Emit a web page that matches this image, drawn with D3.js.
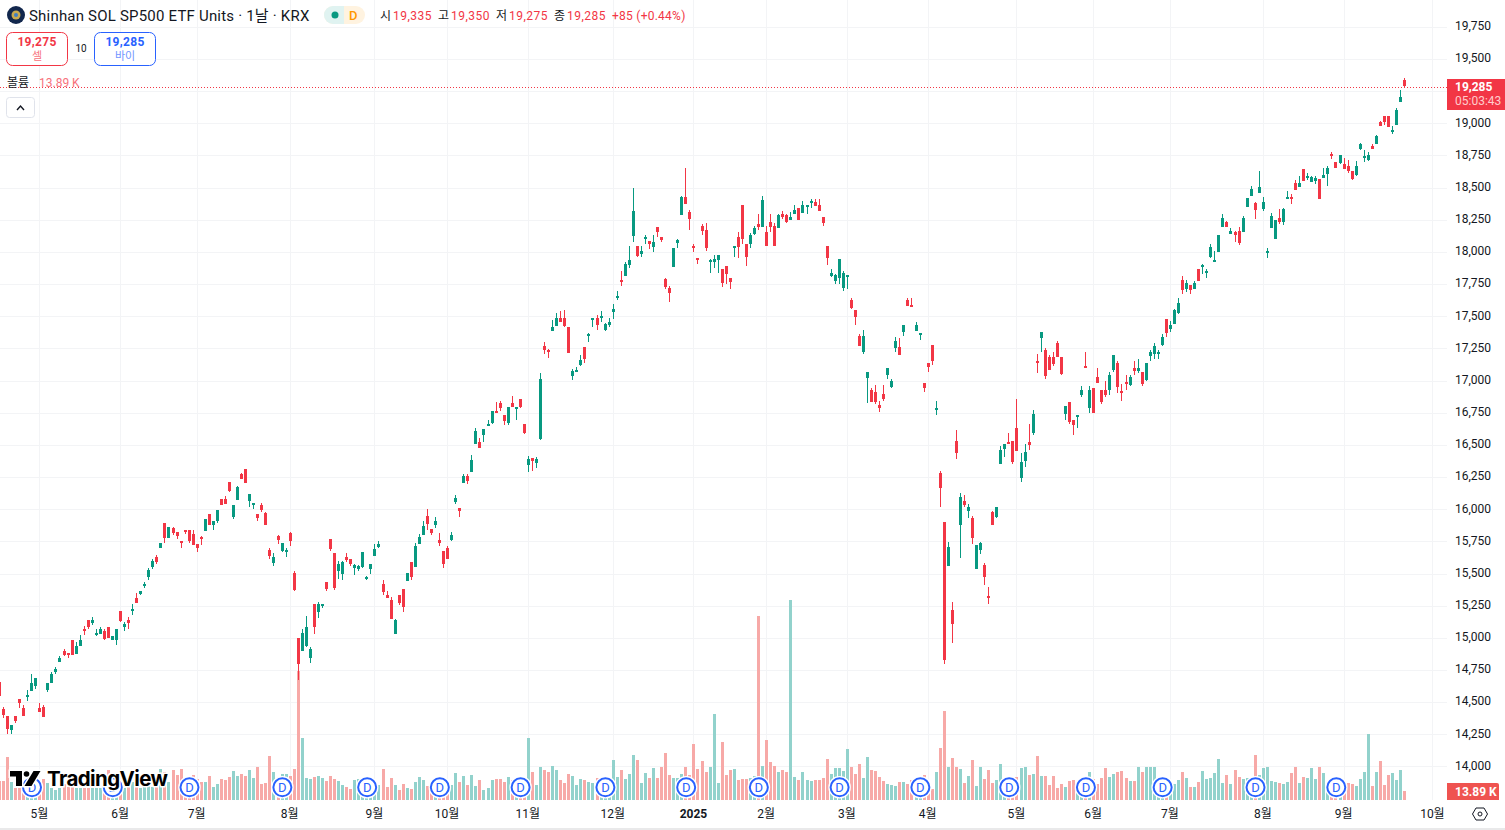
<!DOCTYPE html>
<html lang="ko">
<head>
<meta charset="UTF-8">
<title>Shinhan SOL SP500 ETF Units</title>
<style>
  html, body { margin: 0; padding: 0; width: 100%; height: 100%; overflow: hidden; background: #fff; }
  svg { display: block; }
  text { font-family: Roboto, "Noto Sans CJK KR", sans-serif; fill: #131722; }
  .axis path, .axis line { display: none; }
</style>
</head>
<body>
<svg id="chart" width="1505" height="830"></svg>
<script src="https://d3js.org/d3.v7.min.js"></script>
<script>
const opens = [
  14655,14450,14395,14285,14395,14525,14455,14550,14590,14630,14455,14465,14590,14650,14730,14815,14900,14880,14985,14880,
  14940,15070,15135,15110,15030,15030,15055,15085,14985,14980,15210,15085,15140,15220,15310,15345,15400,15475,15555,15625,
  15700,15895,15780,15855,15825,15755,15840,15840,15810,15730,15785,15835,15965,15880,15905,16080,16080,16215,15940,16075,
  16270,16315,16065,16030,15965,16035,15970,15685,15585,15795,15675,15675,15815,15505,14995,14900,14935,14840,15260,15205,
  15260,15435,15765,15660,15520,15495,15625,15610,15540,15535,15550,15470,15535,15635,15705,15420,15330,15295,15030,15330,
  15380,15440,15590,15550,15730,15800,15945,15845,15875,15760,15675,15695,15760,16055,16010,16200,16255,16290,16505,16520,
  16575,16645,16670,16765,16825,16730,16670,16825,16790,16855,16660,16340,16395,16360,16545,17265,17235,17390,17430,17490,
  17485,17415,17040,17080,17125,17260,17360,17470,17485,17500,17390,17430,17530,17640,17780,17820,17895,18120,18045,17980,
  18110,18085,18035,18190,18115,17790,17720,17880,18065,18285,18425,18310,18045,17955,18200,18170,17935,17925,17935,17865,
  17890,17795,18045,18115,18365,18065,18060,18135,18215,18190,18155,18230,18200,18185,18295,18285,18245,18295,18340,18300,
  18355,18390,18385,18365,18275,18045,17810,17770,17795,17725,17815,17625,17545,17350,17220,17015,16925,16910,16810,16895,
  17040,16950,17250,17260,17375,17630,17590,17390,17365,16980,17140,17275,16780,16280,15900,15555,15215,16530,15875,16060,
  15985,15935,15535,15680,15565,15325,15975,15935,16355,16465,16520,16530,16630,16240,16375,16520,16590,17155,17335,17240,
  17185,17180,17290,17185,16745,16830,16695,16715,16890,17110,16785,16945,17030,16925,16925,16930,17085,17135,16915,16990,
  16970,17100,17080,17065,17000,17195,17210,17215,17280,17480,17405,17445,17530,17785,17715,17745,17715,17870,17890,17850,
  17955,17930,18000,18195,18235,18140,18155,18165,18155,18350,18435,18380,18460,18335,18000,18185,18100,18265,18235,18420,
  18425,18535,18505,18645,18585,18550,18550,18565,18575,18605,18765,18700,18690,18685,18670,18630,18600,18800,18740,18715,
  18825,18840,19010,19055,19055,18945,18985,19165,19335
];
const highs = [
  14655,14460,14395,14325,14395,14525,14475,14595,14720,14690,14495,14480,14650,14735,14775,14860,14910,14885,14985,14970,
  15025,15095,15135,15165,15065,15085,15065,15085,15015,15065,15210,15125,15165,15265,15350,15365,15435,15545,15615,15645,
  15740,15895,15865,15865,15825,15755,15840,15840,15840,15730,15795,15925,15965,15910,15990,16080,16105,16215,16035,16180,
  16285,16315,16120,16050,15965,16050,15980,15700,15660,15800,15740,15700,15825,15520,14995,15065,15170,14925,15260,15275,
  15265,15435,15765,15660,15595,15595,15660,15610,15575,15565,15665,15480,15575,15730,15750,15450,15365,15315,15145,15330,
  15380,15505,15590,15735,15805,15905,16000,15845,15940,15815,15675,15715,15820,16110,16010,16270,16270,16420,16635,16550,
  16620,16690,16760,16830,16840,16730,16795,16880,16795,16855,16660,16410,16395,16405,17055,17300,17245,17470,17525,17540,
  17545,17415,17090,17105,17195,17260,17370,17485,17510,17540,17445,17490,17595,17695,17850,17920,18045,18495,18045,18045,
  18130,18085,18130,18190,18115,17795,17735,18030,18100,18435,18650,18325,18065,17955,18215,18225,17945,17975,17975,17865,
  17890,17795,18050,18155,18365,18065,18145,18205,18295,18435,18200,18295,18225,18295,18315,18295,18310,18365,18340,18395,
  18365,18415,18410,18410,18275,18045,17865,17825,17945,17850,17820,17645,17545,17360,17390,17065,16940,16965,16845,16965,
  17095,17010,17335,17330,17430,17640,17645,17455,17370,16980,17140,17275,16845,16295,15900,15745,15275,16615,16125,16110,
  16040,15945,15720,15745,15580,15395,15985,16015,16490,16505,16590,16530,16855,16435,16505,16660,16775,17205,17380,17255,
  17195,17225,17305,17185,16805,16830,16695,16730,16960,17220,16955,16945,17100,16925,16995,17065,17200,17150,16975,17045,
  17045,17150,17170,17065,17135,17235,17295,17240,17360,17480,17465,17560,17640,17815,17785,17745,17775,17870,17910,17865,
  18065,18005,18130,18295,18240,18185,18165,18195,18280,18420,18515,18390,18630,18425,18030,18305,18250,18335,18340,18475,
  18450,18560,18590,18645,18615,18590,18590,18565,18655,18670,18775,18700,18755,18730,18715,18630,18705,18845,18790,18775,
  18840,18910,19020,19055,19055,18980,19120,19260,19350
];
const lows = [
  14545,14375,14250,14255,14340,14455,14395,14510,14590,14605,14420,14385,14580,14650,14720,14815,14855,14845,14870,14875,
  14940,15025,15070,15100,15015,15030,14985,15000,14980,14945,15125,15055,15070,15180,15275,15330,15390,15450,15535,15575,
  15700,15740,15780,15800,15770,15695,15810,15740,15725,15670,15725,15835,15880,15840,15895,16035,16040,16135,15925,16075,
  16235,16205,16020,16005,15905,15980,15880,15615,15560,15730,15670,15625,15715,15365,14675,14895,14930,14805,15030,15155,
  15235,15365,15675,15370,15455,15450,15590,15555,15485,15520,15540,15450,15495,15635,15695,15330,15310,15145,15030,15255,
  15200,15440,15450,15550,15730,15800,15835,15800,15855,15715,15540,15610,15750,16040,15940,16200,16195,16290,16505,16475,
  16520,16645,16660,16745,16760,16655,16655,16795,16690,16785,16585,16290,16295,16320,16535,17205,17175,17390,17430,17455,
  17420,17215,17005,17065,17110,17135,17300,17415,17390,17455,17385,17415,17475,17625,17735,17820,17875,18075,17960,17960,
  18060,18020,18000,18115,18075,17710,17610,17880,18030,18285,18370,18170,18000,17905,18130,18005,17835,17875,17840,17725,
  17750,17710,17960,17950,18060,17890,18030,18135,18170,18190,18045,18155,18045,18185,18255,18225,18245,18295,18245,18300,
  18295,18340,18355,18315,18205,17895,17805,17750,17750,17700,17710,17555,17435,17265,17205,16825,16830,16815,16755,16845,
  17010,16940,17220,17195,17345,17585,17585,17390,17315,16910,17065,17120,16730,16015,14795,15555,14960,16390,15620,16015,
  15930,15730,15535,15650,15410,15260,15875,15935,16350,16405,16505,16350,16450,16210,16325,16460,16580,17055,17225,17015,
  17080,17115,17180,17045,16695,16660,16575,16635,16870,17095,16750,16750,16985,16820,16870,16885,17070,16905,16845,16925,
  16960,17045,17055,16955,16995,17155,17165,17170,17270,17340,17380,17445,17515,17675,17685,17670,17715,17775,17830,17800,
  17955,17930,18000,18195,18200,18140,18080,18055,18155,18350,18435,18255,18460,18320,17955,18185,18100,18215,18210,18410,
  18375,18480,18505,18550,18560,18545,18530,18410,18575,18515,18720,18655,18685,18645,18615,18560,18590,18790,18700,18705,
  18800,18840,18980,18985,18970,18915,18985,19165,19275
];
const closes = [
  14545,14405,14295,14325,14355,14495,14395,14555,14650,14690,14425,14385,14645,14720,14755,14845,14870,14875,14870,14940,
  14985,15065,15080,15135,15035,15065,14995,15000,15015,15065,15135,15110,15120,15225,15275,15365,15415,15530,15600,15585,
  15740,15780,15865,15815,15795,15750,15835,15755,15725,15700,15770,15925,15880,15910,15990,16035,16040,16145,16035,16175,
  16235,16205,16120,16045,15935,15995,15880,15640,15630,15765,15740,15680,15755,15375,14790,15040,15085,14910,15085,15265,
  15265,15380,15690,15385,15575,15590,15605,15575,15565,15555,15665,15475,15575,15690,15730,15355,15310,15145,15140,15270,
  15240,15505,15470,15715,15785,15870,15885,15815,15905,15735,15575,15610,15800,16085,15985,16255,16220,16380,16605,16475,
  16620,16660,16760,16760,16785,16685,16795,16795,16795,16795,16590,16390,16375,16390,17010,17235,17225,17420,17490,17460,
  17420,17215,17075,17085,17160,17165,17365,17485,17430,17505,17440,17455,17555,17655,17775,17910,17935,18315,17965,18005,
  18115,18065,18075,18155,18090,17725,17680,18030,18090,18425,18370,18255,18030,17950,18160,18030,17940,17945,17975,17755,
  17825,17765,18050,18035,18100,17965,18130,18185,18190,18400,18050,18190,18045,18285,18275,18230,18270,18325,18245,18365,
  18365,18395,18355,18315,18230,17950,17835,17820,17945,17840,17820,17560,17490,17275,17345,17065,16830,16830,16790,16855,
  17095,16995,17305,17195,17430,17585,17585,17435,17370,16940,17110,17150,16785,16165,14825,15705,15105,16435,16095,16030,
  16015,15780,15720,15735,15470,15310,15875,16015,16460,16505,16515,16365,16450,16365,16445,16495,16740,17150,17380,17040,
  17085,17125,17180,17055,16805,16675,16660,16730,16930,17105,16925,16750,16985,16835,16885,17045,17200,16945,16900,16985,
  17030,17080,17100,16970,17135,17225,17270,17220,17340,17375,17435,17550,17605,17705,17760,17705,17760,17775,17895,17855,
  18035,17940,18130,18265,18200,18165,18130,18070,18265,18420,18490,18325,18505,18390,18005,18280,18250,18235,18335,18425,
  18420,18480,18535,18550,18590,18585,18575,18410,18600,18655,18760,18655,18755,18645,18630,18565,18670,18840,18745,18755,
  18800,18900,18980,19010,18970,18950,19105,19205,19285
];
// volume in thousands of units
const volumes = [
  30,29,66,28,18.5,18.5,18.5,26,33,20,28,32,26,18,15,18,25,20,23,19,
  19,19,19,19,18,18,20.5,46,39,19,18,18,33,28,28,18,20,28,20,33,
  48,43,28,46,39,48,33,33,39,33,28,28,37,20,25,32,31,35,45,37,
  40,37,46,34,51,25,26,68,43,35,40,40,37,48,200,96,34,32,35,37,
  34,29,37,32,29,23,20,17,31,32,31,23,23,23,23,48,20,34,23,15,
  25,18.5,17,28,35,31,22,22,23,25,22,22,23,42,28,37,23,39,22,31,
  15,18.5,31,32,32,28,35,31,31,31,33,96,43,23,51,46,43,52,46,31,
  26,40,37,23,32,31,28,26,34,32,31,32,62,35,46,32,40,69,62,26,
  42,34,49,34,51,73,39,34,34,40,51,39,86,48,60,43,51,133,26,89,
  39,46,48,31,32,32,34,37,284,52,93,59,52,43,46,43,309,35,31,43,
  31,29,31,31,34,63,40,49,49,45,79,51,40,56,34,66,46,45,35,29,
  25,23,22,28,28,25,31,31,26,39,23,17,43,80,137,51,65,51,48,26,
  37,62,22,51,32,46,26,31,56,28,26,31,36,49,51,39,40,68,37,37,
  23,37,18.5,25,20,29,31,26,28,31,43,32,25,34,49,35,40,43,45,34,
  29,29,51,43,51,51,51,33,31,26,28,25,31,43,34,20,20,28,45,32,
  34,42,63,26,39,25,46,35,32,34,34,69,39,49,51,29,28,26,25,28,
  42,51,26,35,34,49,32,51,42,26,20,20,20,20,26,25,22,32,43,102,
  22,43,60,23,39,42,31,46,13.89
];
const priceTicks = d3.range(14000, 19751, 250);
const monthBars = [10,30,49,72,93,111,131,152,172,190,210,230,252,271,290,313,333,355];
const monthLabels = ["5월","6월","7월","8월","9월","10월","11월","12월","2025","2월","3월","4월","5월","6월","7월","8월","9월","10월"];
const dividendBars = [8,28,47,70,91,109,129,150,170,188,208,228,250,269,288,311,331];

const UP = "#089981", DOWN = "#f23645";
const UP_VOL = "#92d2cc", DOWN_VOL = "#f7a9a7";
const PANE_W = 1447, PANE_H = 800;

const svg = d3.select("#chart");
const x = d3.scaleLinear().domain([0, 355]).range([-0.6, 1432.9]);
const y = d3.scaleLinear().domain([14000, 19000]).range([766.46, 123.3]);
const vol = d3.scaleLinear().domain([0, 309]).range([PANE_H, 600]);
const snapX = i => Math.floor(x(i)) + 0.5;
const snapY = p => Math.round(y(p)) + 0.5;
const isDown = i => closes[i] < opens[i];
const bars = d3.range(opens.length);

// grid
const grid = svg.append("g").attr("stroke", "#f3f4f6").attr("shape-rendering", "crispEdges");
grid.selectAll(".h").data(priceTicks).join("line")
  .attr("x1", 0).attr("x2", PANE_W).attr("y1", snapY).attr("y2", snapY);
grid.selectAll(".v").data(monthBars).join("line")
  .attr("x1", snapX).attr("x2", snapX).attr("y1", 0).attr("y2", PANE_H);

// volume
svg.append("g").attr("shape-rendering", "crispEdges").selectAll("rect").data(bars).join("rect")
  .attr("x", i => snapX(i) - 1.5).attr("width", 3)
  .attr("y", i => vol(volumes[i])).attr("height", i => PANE_H - vol(volumes[i]))
  .attr("fill", i => isDown(i) ? DOWN_VOL : UP_VOL);

// candles
const candles = svg.append("g").attr("shape-rendering", "crispEdges");
candles.selectAll(".wick").data(bars).join("line")
  .attr("x1", snapX).attr("x2", snapX)
  .attr("y1", i => y(highs[i])).attr("y2", i => y(lows[i]))
  .attr("stroke", i => isDown(i) ? DOWN : UP);
candles.selectAll(".body").data(bars).join("rect")
  .attr("x", i => snapX(i) - 1.5).attr("width", 3)
  .attr("y", i => Math.round(y(Math.max(opens[i], closes[i]))))
  .attr("height", i => Math.max(2, Math.round(Math.abs(y(opens[i]) - y(closes[i])))))
  .attr("fill", i => isDown(i) ? DOWN : UP);

// last price line
svg.append("line").attr("x1", 0).attr("x2", PANE_W)
  .attr("y1", snapY(closes[348])).attr("y2", snapY(closes[348]))
  .attr("stroke", DOWN).attr("stroke-dasharray", "1 2");

// dividend markers
const div = svg.append("g").selectAll("g").data(dividendBars).join("g")
  .attr("transform", i => `translate(${x(i) + 0.3},787.3)`);
div.append("circle").attr("r", 9.3).attr("fill", "#fff").attr("stroke", "#fff").attr("stroke-width", 4);
div.append("circle").attr("r", 9).attr("fill", "#fff").attr("stroke", "#2962ff").attr("stroke-width", 2);
div.append("text").text("D").attr("text-anchor", "middle").attr("dy", "0.36em")
  .attr("font-size", 13).style("fill", "#2962ff");

// watermark logo
const logo = svg.append("g");
logo.append("path")
  .attr("d", "M10 771H22V786H16V776.5H10Z M24.5 786L33.5 771H40.5L31.5 786Z")
  .attr("fill", "#000").attr("stroke", "#fff").attr("stroke-width", 3).attr("paint-order", "stroke");
logo.append("circle").attr("cx", 26.5).attr("cy", 774).attr("r", 2.8).attr("fill", "#000");
logo.append("text").text("TradingView").attr("x", 47).attr("y", 786)
  .attr("font-size", 20.5).attr("font-weight", 700).attr("letter-spacing", -0.6)
  .style("font-family", "Inter").style("fill", "#000")
  .attr("stroke", "#fff").attr("stroke-width", 3).attr("paint-order", "stroke");

// axes
const priceAxis = d3.axisRight(y).tickValues(priceTicks.filter(p => p !== 19250))
  .tickFormat(d3.format(",")).tickSize(0).tickPadding(0);
svg.append("g").attr("class", "axis").attr("transform", "translate(1455,-1)").call(priceAxis)
  .selectAll("text").attr("font-size", 12);
const timeAxis = d3.axisBottom(x).tickValues(monthBars).tickFormat((d, i) => monthLabels[i]).tickSize(0).tickPadding(0);
svg.append("g").attr("class", "axis").attr("transform", "translate(-1,809)").call(timeAxis)
  .selectAll("text").attr("font-size", 12)
  .attr("font-weight", (d, i) => monthLabels[i] === "2025" ? 700 : 400);

// price labels on the scale
svg.append("rect").attr("x", PANE_W).attr("y", 79).attr("width", 58).attr("height", 31).attr("fill", DOWN);
svg.append("text").text("19,285").attr("x", 1455).attr("y", 91).attr("font-size", 12).attr("font-weight", 700).style("fill", "#fff");
svg.append("text").text("05:03:43").attr("x", 1455).attr("y", 105).attr("font-size", 12).style("fill", "#fcc");
svg.append("path").attr("d", "M1447 783H1497a2 2 0 0 1 2 2V800H1447Z").attr("fill", "#ef5350");
svg.append("text").text("13.89 K").attr("x", 1455).attr("y", 795.5).attr("font-size", 12).attr("font-weight", 700).style("fill", "#fff");
svg.append("path").attr("d", "M1472.5 814L1476 808H1484L1487.5 814L1484 820H1476Z").attr("fill", "none").attr("stroke", "#131722");
svg.append("circle").attr("cx", 1480).attr("cy", 814).attr("r", 2).attr("fill", "none").attr("stroke", "#131722");
svg.append("rect").attr("x", 0).attr("y", 828).attr("width", 1505).attr("height", 2).attr("fill", "#e9e9ea");

// header
svg.append("circle").attr("cx", 16).attr("cy", 15).attr("r", 9).attr("fill", "#12274d");
svg.append("circle").attr("cx", 16).attr("cy", 15).attr("r", 4.5).attr("fill", "#c9a94f");
svg.append("circle").attr("cx", 16).attr("cy", 15).attr("r", 2).attr("fill", "#3f7fc4");
svg.append("text").text("Shinhan SOL SP500 ETF Units · 1날 · KRX").attr("x", 29).attr("y", 21)
  .attr("font-size", 15).attr("letter-spacing", 0.2);
svg.append("rect").attr("x", 324).attr("y", 6).attr("width", 41).attr("height", 18).attr("rx", 9).attr("fill", "#fff3e0");
svg.append("path").attr("d", "M344 6H333a9 9 0 0 0 0 18H344Z").attr("fill", "#e0f3f1");
svg.append("circle").attr("cx", 335).attr("cy", 15).attr("r", 3.5).attr("fill", "#089981");
svg.append("text").text("D").attr("x", 349).attr("y", 20).attr("font-size", 13).attr("font-weight", 500).style("fill", "#ff9800");

const ohlcLabels = ["시","고","저","종"];
const ohlcValues = ["19,335","19,350","19,275","19,285"];
ohlcLabels.forEach((l, i) => {
  svg.append("text").text(l).attr("x", 380 + i * 58).attr("y", 20).attr("font-size", 12);
  svg.append("text").text(ohlcValues[i]).attr("x", 393 + i * 58).attr("y", 20).attr("font-size", 12)
    .attr("letter-spacing", 0.5).style("fill", DOWN);
});
svg.append("text").text("+85 (+0.44%)").attr("x", 612).attr("y", 20).attr("font-size", 12)
  .attr("letter-spacing", 0.25).style("fill", DOWN);

function tradeButton(bx, color, price, label, priceColor, labelColor) {
  svg.append("rect").attr("x", bx + 0.5).attr("y", 32.5).attr("width", 61).attr("height", 33).attr("rx", 6)
    .attr("fill", "#fff").attr("stroke", color);
  svg.append("text").text(price).attr("x", bx + 31).attr("y", 46).attr("text-anchor", "middle")
    .attr("font-size", 12).attr("font-weight", 700).attr("letter-spacing", 0.3).style("fill", priceColor);
  svg.append("text").text(label).attr("x", bx + 31).attr("y", 60).attr("text-anchor", "middle")
    .attr("font-size", 11).style("fill", labelColor);
}
tradeButton(6, DOWN, "19,275", "셀", DOWN, "#f7727c");
tradeButton(94, "#2962ff", "19,285", "바이", "#2962ff", "#6f94ff");
svg.append("text").text("10").attr("x", 81).attr("y", 52).attr("text-anchor", "middle").attr("font-size", 10);

svg.append("text").text("볼륨").attr("x", 7).attr("y", 87).attr("font-size", 12);
svg.append("text").text("13.89 K").attr("x", 39).attr("y", 87).attr("font-size", 12).style("fill", "#f7727c");
svg.append("rect").attr("x", 6.5).attr("y", 97.5).attr("width", 28).attr("height", 20).attr("rx", 3)
  .attr("fill", "#fff").attr("stroke", "#e0e3eb");
svg.append("path").attr("d", "M17 110L20.5 106L24 110").attr("fill", "none").attr("stroke", "#131722").attr("stroke-width", 1.4);
</script>
</body>
</html>
